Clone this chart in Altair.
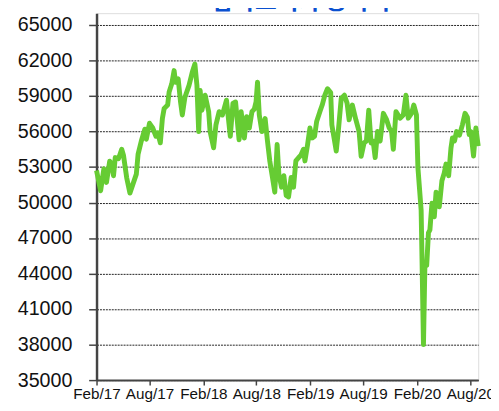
import altair as alt
import pandas as pd

# Series (date, index level)
dates = [
    "2017-02-01", "2017-02-15", "2017-02-26", "2017-03-07", "2017-03-18", "2017-03-25", "2017-03-31",
    "2017-04-06", "2017-04-17", "2017-04-28", "2017-05-04", "2017-05-15", "2017-05-26", "2017-06-06",
    "2017-06-17", "2017-06-23", "2017-07-04", "2017-07-16", "2017-07-21", "2017-08-01", "2017-08-12",
    "2017-08-23", "2017-08-29", "2017-09-07", "2017-09-14", "2017-09-20", "2017-10-02", "2017-10-07",
    "2017-10-16", "2017-10-24", "2017-10-29", "2017-11-07", "2017-11-15", "2017-11-21", "2017-11-30",
    "2017-12-14", "2017-12-25", "2018-01-03", "2018-01-10", "2018-01-16", "2018-01-21", "2018-01-27",
    "2018-02-07", "2018-02-19", "2018-02-24", "2018-03-08", "2018-03-16", "2018-03-27", "2018-04-07",
    "2018-04-21", "2018-05-04", "2018-05-13", "2018-05-22", "2018-06-03", "2018-06-10", "2018-06-21",
    "2018-06-29", "2018-07-08", "2018-07-17", "2018-07-25", "2018-07-31", "2018-08-05", "2018-08-11",
    "2018-08-20", "2018-08-31", "2018-09-08", "2018-09-16", "2018-09-25", "2018-10-03", "2018-10-11",
    "2018-10-17", "2018-10-26", "2018-11-03", "2018-11-11", "2018-11-19", "2018-11-28", "2018-12-06",
    "2018-12-14", "2018-12-23", "2018-12-31", "2019-01-09", "2019-01-14", "2019-01-23", "2019-01-31",
    "2019-02-08", "2019-02-16", "2019-02-23", "2019-03-06", "2019-03-14", "2019-03-23", "2019-04-01",
    "2019-04-12", "2019-04-16", "2019-05-01", "2019-05-09", "2019-05-18", "2019-05-29", "2019-06-07",
    "2019-06-14", "2019-06-25", "2019-07-07", "2019-07-18", "2019-07-25", "2019-08-04", "2019-08-12",
    "2019-08-20", "2019-08-28", "2019-09-04", "2019-09-11", "2019-09-19", "2019-09-28", "2019-10-09",
    "2019-10-20", "2019-10-29", "2019-11-06", "2019-11-12", "2019-11-21", "2019-12-05", "2019-12-16",
    "2019-12-25", "2020-01-02", "2020-01-13", "2020-01-21", "2020-01-30", "2020-02-04", "2020-02-10",
    "2020-02-15", "2020-02-18", "2020-02-23", "2020-02-28", "2020-03-05", "2020-03-11", "2020-03-16",
    "2020-03-23", "2020-03-31", "2020-04-06", "2020-04-17", "2020-04-26", "2020-05-04", "2020-05-10",
    "2020-05-19", "2020-05-27", "2020-06-01", "2020-06-08", "2020-06-15", "2020-06-25", "2020-07-05",
    "2020-07-14", "2020-07-22", "2020-07-28", "2020-08-03", "2020-08-12", "2020-08-20", "2020-08-28",
]
values = [
    52700, 51000, 52850, 51700, 53500, 53270, 52270,
    53800, 53700, 54500, 54000, 52100, 50800, 51600,
    52400, 54100, 55200, 56200, 55350, 56700, 56300,
    55600, 55900, 55050, 57100, 57950, 58240, 59340,
    60030, 61150, 60170, 60450, 58500, 57400, 58900,
    59900, 61000, 61700, 59900, 56000, 59480, 57800,
    59070, 57700, 56000, 54630, 56570, 57680, 57400,
    58650, 55600, 58370, 58500, 55300, 57680, 55460,
    57260, 56300, 57680, 57900, 58500, 60170, 57400,
    56000, 57100, 55200, 53500, 52130, 50880, 54900,
    52400, 51300, 52270, 50600, 50470, 52130, 51300,
    53520, 53790, 54000, 54500, 53520, 54900, 56300,
    55460, 55600, 56850, 57680, 58240, 59070, 59620,
    59300, 56570, 54350, 56300, 58790, 59070, 58400,
    56990, 58240, 57000, 56000, 53900, 55040, 55200,
    57800, 55040, 55200, 53800, 56000, 55200, 57540,
    57000, 56300, 56000, 54500, 57680, 57130, 57400,
    59070, 57130, 57540, 58240, 57400, 52950, 51000,
    49360, 45200, 38000, 44950, 44700, 47450, 47700,
    49940, 48800, 50880, 49640, 51850, 52500, 53250,
    52270, 54630, 55460, 55200, 56000, 55700, 56570,
    57540, 57200, 55740, 56000, 53930, 56300, 54770,
]
y_ticks = [35000, 38000, 41000, 44000, 47000, 50000, 53000, 56000, 59000, 62000, 65000]
x_tick_months = [(2017, 2), (2017, 8), (2018, 2), (2018, 8), (2019, 2), (2019, 8), (2020, 2), (2020, 8)]
title_text = "남아프리카 공화국"

df = pd.DataFrame({"date": pd.to_datetime(dates), "value": values})

W, H = 388, 373

x_enc = alt.X(
    "date:T",
    scale=alt.Scale(domain=[alt.DateTime(year=2017, month=2, date=1),
                            alt.DateTime(year=2020, month=8, date=28)]),
    axis=alt.Axis(
        values=[alt.DateTime(year=y, month=m, date=1) for y, m in x_tick_months],
        format="%b/%y", title=None, grid=False,
        labelFont="Liberation Sans", labelFontSize=15.5, labelColor="#111",
        labelFlush=False, labelOverlap=False, labelPadding=2,
        tickSize=5, tickColor="#444", tickWidth=1.5,
        domainColor="#444", domainWidth=2,
    ),
)
y_enc = alt.Y(
    "value:Q",
    scale=alt.Scale(domain=[35000, 66000], nice=False, zero=False),
    axis=alt.Axis(
        values=y_ticks, format="d", title=None,
        labelFont="Liberation Sans", labelFontSize=20, labelColor="#111",
        labelPadding=17, tickSize=8, tickColor="#444", tickWidth=1.5,
        domainColor="#444", domainWidth=2.5,
        gridColor="#222", gridDash=[2, 1], gridWidth=1,
    ),
)

line = alt.Chart(df).mark_line(color="#66cc33", strokeWidth=5, strokeJoin="round").encode(
    x=x_enc, y=y_enc
)

title = alt.Chart(pd.DataFrame({"t": [title_text]})).mark_text(
    font="Noto Sans CJK KR", fontSize=24, fontWeight="bold", color="#0a50d0",
    baseline="bottom", align="center",
).encode(x=alt.value(208), y=alt.value(1), text="t:N")

chart = alt.layer(line, title).properties(
    width=W, height=H,
    autosize=alt.AutoSizeParams(type="none"),
    padding={"left": 90, "top": 2, "right": 13, "bottom": 20},
).configure_view(stroke="#9a9a9a", strokeWidth=2).configure(background="white")

chart.save("out.html", embed_options={"renderer": "svg", "actions": False})
